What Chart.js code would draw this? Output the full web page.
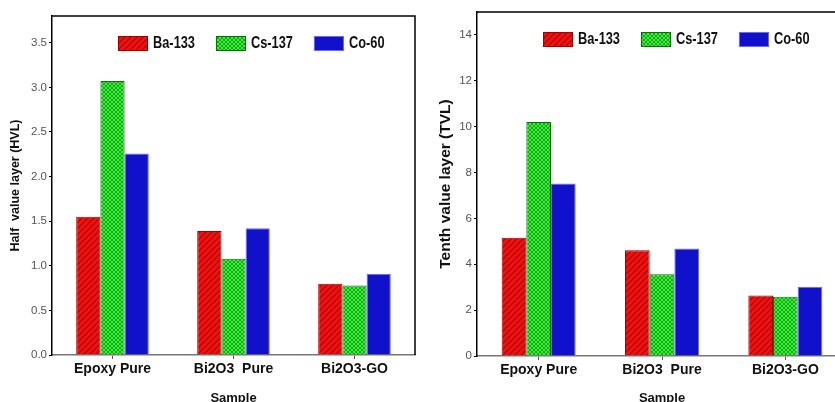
<!DOCTYPE html>
<html>
<head>
<meta charset="utf-8">
<script src="https://cdn.jsdelivr.net/npm/chart.js@4.4.0/dist/chart.umd.min.js"></script>
<style>
  html, body { margin: 0; padding: 0; background: #fff; overflow: hidden; width: 835px; height: 402px; }
  .box { position: absolute; top: 0; height: 408px; }
  #leftBox { left: 0; width: 420px; }
  #rightBox { left: 420px; width: 430px; }
</style>
</head>
<body>
<div class="box" id="leftBox"><canvas id="hvlChart"></canvas></div>
<div class="box" id="rightBox"><canvas id="tvlChart"></canvas></div>
<script>
var samples = ['Epoxy Pure', 'Bi2O3  Pure', 'Bi2O3-GO'];
var sources = ['Ba-133', 'Cs-137', 'Co-60'];

// half value layer (HVL)
var hvlBa = [1.55, 1.39, 0.80];
var hvlCs = [3.07, 1.08, 0.78];
var hvlCo = [2.26, 1.42, 0.91];
var hvlTicks = [0, 0.5, 1.0, 1.5, 2.0, 2.5, 3.0, 3.5];

// tenth value layer (TVL)
var tvlBa = [5.16, 4.61, 2.64];
var tvlCs = [10.2, 3.56, 2.58];
var tvlCo = [7.52, 4.69, 3.02];
var tvlTicks = [0, 2, 4, 6, 8, 10, 12, 14];

var sans = '"Liberation Sans", Arial, sans-serif';

function makePattern(kind) {
    var c = document.createElement('canvas');
    var g = c.getContext('2d');
    if (kind === 'hatch') {
        c.width = 6; c.height = 6;
        g.fillStyle = '#ee1212';
        g.fillRect(0, 0, 6, 6);
        g.strokeStyle = '#b00000';
        g.lineWidth = 1.2;
        g.beginPath();
        g.moveTo(0, 6); g.lineTo(6, 0);
        g.moveTo(-1, 1); g.lineTo(1, -1);
        g.moveTo(5, 7); g.lineTo(7, 5);
        g.stroke();
    } else {
        c.width = 4; c.height = 4;
        g.fillStyle = '#3af03a';
        g.fillRect(0, 0, 4, 4);
        g.strokeStyle = '#13a013';
        g.lineWidth = 0.9;
        g.beginPath();
        g.moveTo(0, 4); g.lineTo(4, 0);
        g.moveTo(0, 0); g.lineTo(4, 4);
        g.stroke();
    }
    return g.createPattern(c, 'repeat');
}

var redFill = makePattern('hatch');
var greenFill = makePattern('cross');
var blueFill = '#1111cc';

function buildSets(ba, cs, co) {
    return [
        { label: sources[0], data: ba, backgroundColor: redFill, borderColor: '#a00000', borderWidth: 1 },
        { label: sources[1], data: cs, backgroundColor: greenFill, borderColor: '#0b6e0b', borderWidth: 1 },
        { label: sources[2], data: co, backgroundColor: blueFill, borderColor: '#6b6bef', borderWidth: 1 }
    ];
}

// legend drawn inside the plot (narrow bold text), plus the black frame on top / right
var framePlugin = {
    id: 'frameAndLegend',
    afterDatasetsDraw: function(chart) {
        var ctx = chart.ctx;
        var area = chart.chartArea;
        ctx.save();
        ctx.strokeStyle = '#000';
        ctx.lineWidth = 1.5;
        ctx.beginPath();
        ctx.moveTo(area.left, area.top);
        ctx.lineTo(area.right, area.top);
        ctx.lineTo(area.right, area.bottom);
        ctx.stroke();

        var squeeze = 0.8;
        var x = area.left + 66;
        var y = area.top + 20;
        ctx.font = 'bold 16px ' + sans;
        ctx.textBaseline = 'middle';
        chart.data.datasets.forEach(function(ds) {
            ctx.fillStyle = ds.backgroundColor;
            ctx.fillRect(x, y, 30, 15);
            ctx.strokeStyle = ds.borderColor;
            ctx.lineWidth = 1;
            ctx.strokeRect(x + 0.5, y + 0.5, 29, 14);
            ctx.fillStyle = '#111';
            ctx.save();
            ctx.translate(x + 35, y + 8);
            ctx.scale(squeeze, 1);
            ctx.fillText(ds.label, 0, 0);
            ctx.restore();
            x += 35 + ctx.measureText(ds.label).width * squeeze + 21;
        });
        ctx.restore();
    }
};

function renderChart(id, sets, yMax, tickList, yTitle, opts) {
    var ctx = document.getElementById(id).getContext('2d');
    return new Chart(ctx, {
        type: 'bar',
        data: { labels: samples, datasets: sets },
        options: {
            responsive: true,
            maintainAspectRatio: false,
            animation: false,
            layout: { padding: { top: opts.top, right: opts.right, left: 0, bottom: 0 } },
            datasets: { bar: { categoryPercentage: 0.6, barPercentage: 1.0 } },
            plugins: { legend: { display: false }, tooltip: { enabled: false } },
            scales: {
                x: {
                    grid: { display: true, drawOnChartArea: false, offset: false, tickLength: 4, color: '#555', lineWidth: 1 },
                    border: { color: '#777', width: 1.5 },
                    ticks: { color: '#111', padding: 2, font: { family: sans, size: 14, weight: 'bold' } },
                    title: { display: true, text: 'Sample', color: '#111', padding: { top: 0, bottom: 2 },
                             font: { family: sans, size: 13, weight: 'bold' } },
                    afterFit: function(scale) { scale.height = opts.xHeight; }
                },
                y: {
                    min: 0,
                    max: yMax,
                    grid: { display: true, drawOnChartArea: false, tickLength: 3, color: '#000' },
                    border: { color: '#000', width: 1.5 },
                    afterBuildTicks: function(scale) {
                        scale.ticks = tickList.map(function(v) { return { value: v }; });
                    },
                    ticks: {
                        color: '#555',
                        padding: 2,
                        font: { family: sans, size: 11.5 },
                        callback: function(v) { return opts.decimals ? Number(v).toFixed(1) : v; }
                    },
                    title: { display: true, text: yTitle, color: '#111', padding: { top: opts.titlePad, bottom: 0 },
                             font: { family: sans, size: opts.titleSize, weight: 'bold' } },
                    afterFit: function(scale) { scale.width = opts.yWidth; }
                }
            }
        },
        plugins: [framePlugin]
    });
}

document.addEventListener('DOMContentLoaded', function() {
    renderChart('hvlChart', buildSets(hvlBa, hvlCs, hvlCo), 3.8, hvlTicks, 'Half  value layer (HVL)',
        { top: 16, right: 5, xHeight: 53, yWidth: 52, decimals: true, titlePad: 8.5, titleSize: 12.5 });
    renderChart('tvlChart', buildSets(tvlBa, tvlCs, tvlCo), 15, tvlTicks, 'Tenth value layer (TVL)',
        { top: 12, right: 3, xHeight: 52, yWidth: 57, decimals: false, titlePad: 16, titleSize: 15.5 });
});
</script>
</body>
</html>
